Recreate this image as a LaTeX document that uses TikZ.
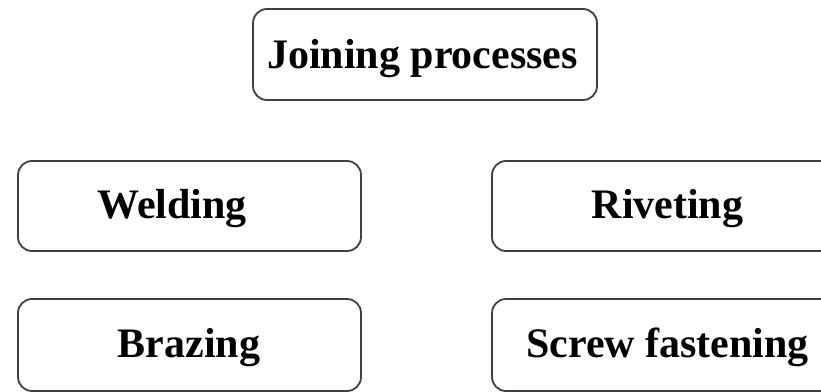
\documentclass[tikz,border=0pt]{standalone}
\usepackage{fontspec}
\setmainfont{Liberation Serif}
\definecolor{boxgray}{HTML}{404040}
\begin{document}
\begin{tikzpicture}[x=1pt,y=-1pt,
  box/.style={draw=boxgray, line width=1.8pt, rounded corners=14pt, inner sep=0pt},
  lbl/.style={font=\fontsize{42}{48}\selectfont\bfseries, anchor=base, inner sep=0pt}]
\useasboundingbox (0,0) rectangle (821,391);
\clip (0,0) rectangle (821,391);
\node[box, minimum width=344pt, minimum height=91pt] (top) at (425,54.5) {};
\node[box, minimum width=343pt, minimum height=90pt] (weld) at (189.5,206) {};
\node[box, minimum width=358pt, minimum height=90pt] (rivet) at (671,206) {};
\node[box, minimum width=343pt, minimum height=92pt] (braze) at (189.5,345) {};
\node[box, minimum width=358pt, minimum height=92pt] (screw) at (671,345) {};
\node[lbl] (ttop) at (422.5,68) {Joining processes};
\node[lbl] (tweld) at (172,218) {Welding};
\node[lbl] (trivet) at (667.5,218) {Riveting};
\node[lbl] (tbraze) at (189,357) {Brazing};
\node[lbl] (tscrew) at (667.5,357) {Screw fastening};
\end{tikzpicture}
\end{document}
